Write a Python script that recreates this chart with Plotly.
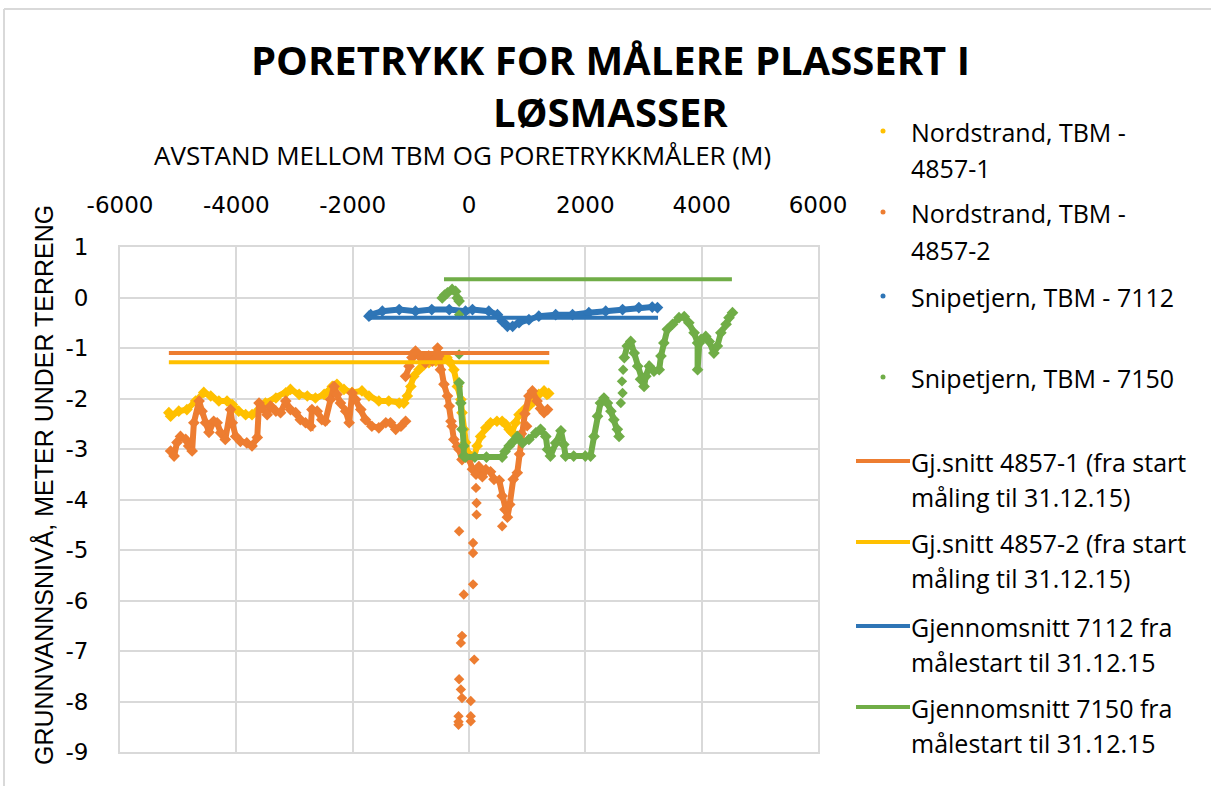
import plotly.graph_objects as go

# ---------------------------------------------------------------------------
# Pore pressure readings vs. distance between TBM and piezometer (m)
# ---------------------------------------------------------------------------

# Nordstrand, TBM - 4857-1 (continuous runs separated by None)
x_4857_1 = [-5160, -5130, -4990, -4850, -4700, -4560, -4440, -4300, -4160, -4070,
            -3960, -3840, -3730, -3610, -3500, -3320, -3150, -3070, -2920, -2780,
            -2640, -2490, -2350, -2270, -2150, -2010, -1840, -1720, -1550, -1380,
            -1200, -1120, -1060, -1000, -950, -860, -770, -690, -570, -460,
            -380, -320, -260, -200, -140, -120, -90, -60, -30, 0,
            90, 140, 200, 290, 370, 480, 570, 630, 690, 740,
            800, 860, 950, 1030, 1120, 1200, 1290, 1340, 1370]
y_4857_1 = [-2.28, -2.35, -2.25, -2.22, -2.05, -1.88, -1.95, -2.05, -2.05, -2.12,
            -2.25, -2.32, -2.32, -2.22, -2.09, -1.99, -1.89, -1.82, -1.92, -1.95,
            -1.99, -1.92, -1.76, -1.72, -1.82, -1.88, -1.85, -1.95, -2.05, -2.05,
            -2.09, -2.09, -1.95, -1.76, -1.56, -1.43, -1.33, -1.29, -1.26, -1.19,
            -1.19, -1.29, -1.43, -1.76, -2.02, -2.28, -2.61, -2.87, -3.07, -3.17,
            -3.14, -2.94, -2.75, -2.58, -2.48, -2.45, -2.45, -2.51, -2.61, -2.67,
            -2.48, -2.32, -2.22, -2.15, -2.05, -1.92, -1.85, -1.92, -1.90]
pts_x_4857_1 = []
pts_y_4857_1 = []

# Nordstrand, TBM - 4857-2
x_4857_2 = [-5130, -5070, -5020, -4960, -4870, -4820, -4760, -4730, -4640, -4590,
            -4530, -4470, -4390, -4330, -4270, -4190, -4100, -4070, -4010, -3930,
            -3820, -3730, -3640, -3610, -3560, -3470, -3410, -3320, -3240, -3150,
            -3070, -2980, -2900, -2810, -2720, -2700, -2610, -2530, -2470, -2380,
            -2320, -2270, -2210, -2120, -2060, -2010, -1950, -1860, -1780, -1670,
            -1550, -1430, -1350, -1260, -1170, -1090, None,
            -1090, -1030, -980, -920, -830, -750, -690, -630, -540, -520,
            -490, -430, -370, -340, -310, -290, -260, -200, -170, -120, None,
            0, 60, 120, 170, 230, 290, 370, 430, 520, 570,
            620, 660, 700, 760, 830, 870, 900, 960, 1030, 1090,
            1170, 1230, 1290, 1350]
y_4857_2 = [-3.04, -3.14, -2.87, -2.75, -2.81, -2.94, -3.04, -2.48, -2.05, -2.25,
            -2.48, -2.67, -2.45, -2.48, -2.68, -2.81, -2.22, -2.48, -2.75, -2.85,
            -2.88, -2.94, -2.77, -2.09, -2.18, -2.32, -2.15, -2.25, -2.28, -2.05,
            -2.22, -2.28, -2.42, -2.48, -2.55, -2.22, -2.25, -2.42, -2.45, -2.02,
            -1.76, -1.92, -2.09, -2.25, -2.48, -1.89, -2.02, -2.22, -2.42, -2.55,
            -2.58, -2.48, -2.48, -2.61, -2.55, -2.45, None,
            -1.56, -1.36, -1.19, -1.06, -1.19, -1.29, -1.16, -1.26, -1.00, -1.16,
            -1.43, -1.72, -1.95, -2.15, -2.45, -2.55, -2.81, -2.95, -3.01, -3.21, None,
            -3.20, -3.40, -3.50, -3.35, -3.55, -3.41, -3.45, -3.60, -3.62, -3.93,
            -4.20, -4.35, -4.10, -3.60, -3.47, -3.10, -2.70, -2.30, -1.95, -1.85,
            -2.05, -2.20, -2.28, -2.22]
pts_x_4857_2 = [120, 130, 130, -170, 70, 70, 70, -90, -120, -140,
                90, -170, -140, -120, 30, -180, -180, -180, 30, 30,
                570, 1000]
pts_y_4857_2 = [-3.77, -4.07, -4.30, -4.63, -4.86, -5.06, -5.68, -5.88, -6.70, -6.84,
                -7.17, -7.56, -7.76, -7.93, -7.99, -8.29, -8.40, -8.46, -8.29, -8.39,
                -4.53, -2.55]

# Snipetjern, TBM - 7112
x_7112 = [-1720, -1690, -1490, -1200, -920, -640, -340, -60, 60, 340,
          490, 570, 660, 750, 860, 1030, 1200, 1490, 1780, 2060,
          2350, 2640, 2920, 3150, 3240]
y_7112 = [-0.37, -0.34, -0.27, -0.24, -0.27, -0.24, -0.24, -0.27, -0.24, -0.27,
          -0.34, -0.47, -0.57, -0.57, -0.50, -0.44, -0.37, -0.34, -0.34, -0.30,
          -0.27, -0.24, -0.20, -0.19, -0.20]
pts_x_7112 = []
pts_y_7112 = []

# Snipetjern, TBM - 7150
x_7150 = [-460, -420, -370, -290, -230, -200, -170, None,
          -170, -140, -120, -90, -90, -60, 100, 300, 570, 620,
          690, 760, 830, 920, 1030, 1150, 1230, 1320, 1350, 1400,
          1490, 1580, 1630, 1660, 1800, 2000, 2090, 2150, 2210, 2260,
          2320, 2380, 2440, 2490, 2550, 2580, None,
          2670, 2720, 2780, 2840, 2900, 2950, 3010, 3040, 3100, 3180,
          3270, 3300, 3350, 3410, 3500, 3610, 3700, 3780, 3870, 3930,
          3930, 3960, 3990, 4070, 4130, 4210, 4270, 4330, 4420, 4470, 4530]
y_7150 = [-0.01, 0.05, 0.09, 0.16, 0.12, -0.01, -0.07, None,
          -1.69, -2.09, -2.61, -2.94, -3.14, -3.16, -3.16, -3.16, -3.16, -3.05,
          -2.94, -2.85, -2.75, -2.88, -2.81, -2.68, -2.61, -2.75, -3.01, -3.14,
          -2.88, -2.64, -2.91, -3.14, -3.14, -3.14, -3.14, -2.75, -2.35, -2.09,
          -1.99, -2.09, -2.25, -2.42, -2.61, -2.75, None,
          -1.19, -0.96, -0.87, -1.10, -1.36, -1.62, -1.76, -1.56, -1.36, -1.46,
          -1.43, -1.16, -0.90, -0.63, -0.53, -0.40, -0.38, -0.50, -0.70, -0.90,
          -1.43, -0.90, -0.83, -0.77, -0.87, -1.10, -0.96, -0.70, -0.53, -0.40, -0.30]
pts_x_7150 = [-170, -170, 2610, 2640, 2630, 2650]
pts_y_7150 = [-0.34, -1.13, -2.09, -1.89, -1.66, -1.43]

# Averages from start of measurement to 31.12.15
avg_names = ["Gj.snitt 4857-1 (fra start måling til 31.12.15)",
             "Gj.snitt 4857-2 (fra start måling til 31.12.15)",
             "Gjennomsnitt 7112 fra målestart til 31.12.15",
             "Gjennomsnitt 7150 fra målestart til 31.12.15"]
avg_values = [-1.10, -1.28, -0.40, 0.36]
avg_x_start = [-5160, -5160, -1720, -430]
avg_x_end = [1380, 1380, 3250, 4520]

series_names = ["Nordstrand, TBM - 4857-1", "Nordstrand, TBM - 4857-2",
                "Snipetjern, TBM - 7112", "Snipetjern, TBM - 7150"]

x_ticks = [-6000, -4000, -2000, 0, 2000, 4000, 6000]
x_tick_labels = ["-6000", "-4000", "-2000", "0", "2000", "4000", "6000"]
y_ticks = [1, 0, -1, -2, -3, -4, -5, -6, -7, -8, -9]
y_tick_labels = ["1", "0", "-1", "-2", "-3", "-4", "-5", "-6", "-7", "-8", "-9"]

# Colours
YELLOW = "#FFC000"
ORANGE = "#ED7D31"
BLUE = "#2E75B6"
GREEN = "#70AD47"
GRID = "#D9D9D9"

series_colors = [YELLOW, ORANGE, BLUE, GREEN]
avg_colors = [ORANGE, YELLOW, BLUE, GREEN]

# Canvas and plot-area geometry (pixels)
W, H = 1211, 786
PL, PR, PT, PB = 120, 818, 247, 752


def px_x(p):
    return (p - PL) / (PR - PL)


def px_y(p):
    return (PB - p) / (PB - PT)


fig = go.Figure()

series_data = [
    (x_4857_1, y_4857_1, pts_x_4857_1, pts_y_4857_1),
    (x_4857_2, y_4857_2, pts_x_4857_2, pts_y_4857_2),
    (x_7112, y_7112, pts_x_7112, pts_y_7112),
    (x_7150, y_7150, pts_x_7150, pts_y_7150),
]

for name, color, (sx, sy, px, py) in zip(series_names, series_colors, series_data):
    fig.add_trace(go.Scatter(
        x=sx, y=sy, name=name, mode="lines+markers", connectgaps=False,
        line=dict(color=color, width=6),
        marker=dict(symbol="diamond", size=9, color=color),
        showlegend=False, legendgroup=name))
    if px:
        fig.add_trace(go.Scatter(
            x=px, y=py, name=name, mode="markers",
            marker=dict(symbol="diamond", size=8, color=color),
            showlegend=False, legendgroup=name))

for name, color, v, x0, x1 in zip(avg_names, avg_colors, avg_values, avg_x_start, avg_x_end):
    fig.add_trace(go.Scatter(
        x=[x0, x1], y=[v, v], name=name, mode="lines",
        line=dict(color=color, width=4), showlegend=False))

TICK_FONT = dict(family="DejaVu Sans", size=23, color="black")

fig.update_xaxes(
    range=[-6000, 6000], side="top", tickvals=x_ticks, ticktext=x_tick_labels,
    showgrid=True, gridcolor=GRID, gridwidth=2, zeroline=False,
    showline=True, linecolor=GRID, linewidth=2, mirror=True,
    ticks="outside", ticklen=23, tickcolor="rgba(0,0,0,0)",
    tickfont=TICK_FONT)
fig.update_yaxes(
    range=[-9, 1], tickvals=y_ticks, ticktext=y_tick_labels,
    showgrid=True, gridcolor=GRID, gridwidth=2, zeroline=False,
    showline=True, linecolor=GRID, linewidth=2, mirror=True,
    ticks="outside", ticklen=25, tickcolor="rgba(0,0,0,0)",
    tickfont=TICK_FONT)

annotations = []

# Title (two lines in one text block)
annotations.append(dict(
    text="<b>PORETRYKK FOR MÅLERE PLASSERT I<br>LØSMASSER</b>",
    x=px_x(610), y=px_y(86), xref="paper", yref="paper",
    xanchor="center", yanchor="middle", align="center", showarrow=False,
    font=dict(family="Open Sans", size=40, color="black")))

# Axis titles
annotations.append(dict(
    text="AVSTAND MELLOM TBM OG PORETRYKKMÅLER (M)", x=px_x(462), y=px_y(155),
    xref="paper", yref="paper", xanchor="center", yanchor="middle", showarrow=False,
    font=dict(family="Open Sans", size=26, color="black")))
annotations.append(dict(
    text="GRUNNVANNSNIVÅ, METER UNDER TERRENG", x=px_x(43), y=px_y(485),
    xref="paper", yref="paper", xanchor="center", yanchor="middle", showarrow=False,
    textangle=-90, font=dict(family="Liberation Sans", size=25, color="black")))

# Legend (drawn beside the plot area)
LEG_FONT = dict(family="Open Sans", size=25, color="black")
legend_rows = [
    (["Nordstrand, TBM -", "4857-1"], [132, 168], YELLOW, "marker"),
    (["Nordstrand, TBM -", "4857-2"], [213, 250], ORANGE, "marker"),
    (["Snipetjern, TBM - 7112"], [297], BLUE, "marker"),
    (["Snipetjern, TBM - 7150"], [378], GREEN, "marker"),
    (["Gj.snitt 4857-1 (fra start", "måling til 31.12.15)"], [462, 497], ORANGE, "line"),
    (["Gj.snitt 4857-2 (fra start", "måling til 31.12.15)"], [543, 578], YELLOW, "line"),
    (["Gjennomsnitt 7112 fra", "målestart til 31.12.15"], [627, 662], BLUE, "line"),
    (["Gjennomsnitt 7150 fra", "målestart til 31.12.15"], [708, 743], GREEN, "line"),
]

shapes = []
for lines, ys, color, kind in legend_rows:
    for txt, yc in zip(lines, ys):
        annotations.append(dict(
            text=txt, x=px_x(909), y=px_y(yc), xref="paper", yref="paper",
            xanchor="left", yanchor="middle", showarrow=False, font=LEG_FONT))
    y0 = ys[0] - 1
    if kind == "marker":
        shapes.append(dict(type="circle", xref="paper", yref="paper",
                           x0=px_x(880.5), x1=px_x(885.5), y0=px_y(y0 - 2.5), y1=px_y(y0 + 2.5),
                           fillcolor=color, line=dict(width=0)))
    else:
        shapes.append(dict(type="line", xref="paper", yref="paper",
                           x0=px_x(856), x1=px_x(910), y0=px_y(y0), y1=px_y(y0),
                           line=dict(color=color, width=4)))

# Chart-area frame
shapes.append(dict(type="line", xref="paper", yref="paper",
                   x0=px_x(4), x1=px_x(W), y0=px_y(9), y1=px_y(9),
                   line=dict(color=GRID, width=2)))
shapes.append(dict(type="line", xref="paper", yref="paper",
                   x0=px_x(4), x1=px_x(4), y0=px_y(9), y1=px_y(H),
                   line=dict(color=GRID, width=2)))

fig.update_layout(
    width=W, height=H, autosize=False,
    margin=dict(l=PL, r=W - PR, t=PT, b=H - PB),
    paper_bgcolor="white", plot_bgcolor="white",
    annotations=annotations, shapes=shapes, showlegend=False)

fig.write_html("out.html")
